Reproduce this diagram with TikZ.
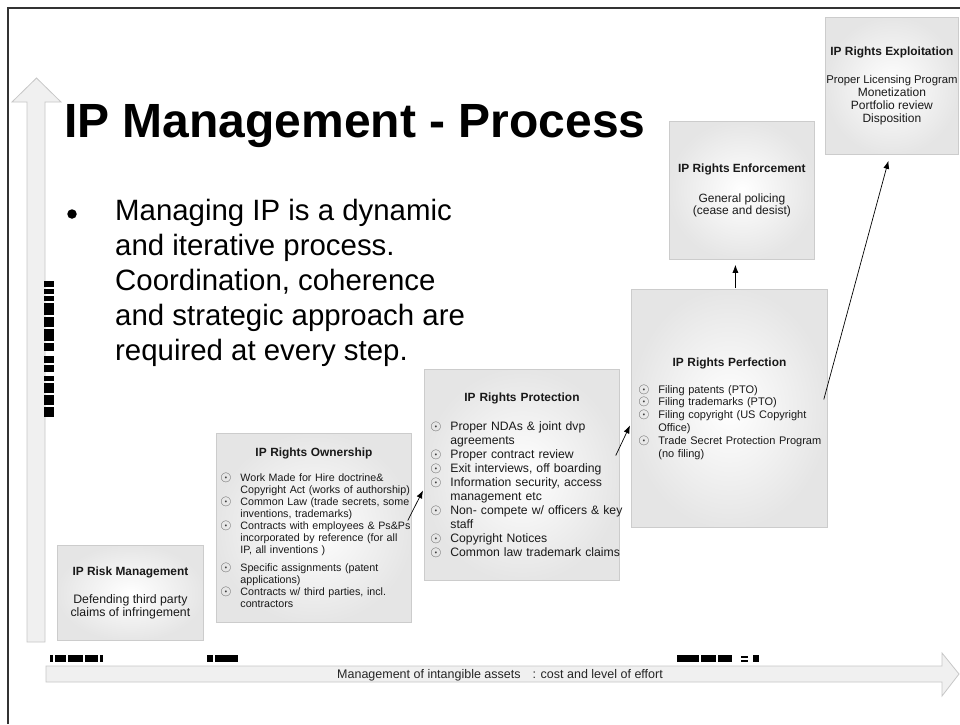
\documentclass[tikz,border=0pt]{standalone}
\usepackage{fontspec}
\setmainfont{Liberation Sans}
\usetikzlibrary{arrows.meta}

% list marks and lines inside the boxes
\newcommand\ipbul{{\fontsize{14}{14}\selectfont\color{black!75}$\odot$}}
\newcommand\ipitem[1]{\makebox[20pt][l]{\ipbul}\mbox{#1}}
\newcommand\ipmore[1]{\hspace*{20pt}\mbox{#1}}
\newcommand\iptitle[1]{{\fontsize{11.9}{13}\selectfont\bfseries #1}}

\tikzset{
  ipbox/.style={anchor=north west, draw=black!20, line width=0.8pt,
    inner color=white, outer color=black!10, inner ysep=0pt, text=black!90},
  iplist/.style={ipbox, align=left},
  bigarrow/.style={draw=black!22, fill=black!6, line width=0.8pt},
  link/.style={-{Latex[length=8pt,width=6pt]}, line width=0.7pt},
}

\begin{document}
\begin{tikzpicture}[x=1pt,y=-1pt]
        \useasboundingbox (0,0) rectangle (960,724);
        \fill[white] (0,0) rectangle (960,724);
        \draw[black!80, line width=1.2pt] (8,724) -- (8,8) -- (960,8);

        % the two axes
        \draw[bigarrow] (27,642) -- (27,102) -- (12,102) -- (36.5,78) -- (61,102) -- (45,102) -- (45,642) -- cycle;
        \draw[bigarrow] (46,666) -- (942,666) -- (942,653) -- (959,674) -- (942,696) -- (942,682) -- (46,682) -- cycle;

        % smudged axis labels
        \foreach \a/\b in {281/287,289/294,296/301,303/315,317/327,329/341,343/351,356/363,365/372,376/381,383/393,395/405,407/417}{
            \fill (44,\a) rectangle (54,\b);
        }
        \foreach \a/\b in {50/53,55/66,68/83,85/98,100/103,207/213,215/238,677/699,701/716,718/732,753/759}{
            \fill (\a,655) rectangle (\b,662);
        }
        \fill (741,656) rectangle (748,658);
        \fill (741,660) rectangle (748,662);

        \node[anchor=base west, inner sep=0pt, font=\fontsize{12.5}{14}\selectfont, text=black!85] (effort) at (337,678)
            {Management of intangible assets\hspace{12pt}: cost and level of effort};

        % heading and bullet
        \node[anchor=base west, inner sep=0pt, font=\fontsize{48}{50}\selectfont\bfseries] (title) at (64,137) {IP Management - Process};
        \node[circle, fill=black, minimum size=9.5pt, inner sep=0pt] (dot) at (72,214) {};
        \node[anchor=north west, inner sep=0pt, align=left, font=\fontsize{29.4}{35}\selectfont] (intro) at (115,199)
            {Managing IP is a dynamic\\and iterative process.\\Coordination, coherence\\and strategic approach are\\required at every step.};

        % the steps
        \node[ipbox, minimum width=146pt, minimum height=95pt, align=center, font=\fontsize{12.3}{13}\selectfont] (risk) at (57,545)
            {\iptitle{IP Risk Management}\\[15pt]Defending third party\\claims of infringement};

        \node[iplist, minimum width=195pt, minimum height=189pt, text width=187pt, inner xsep=4pt, font=\fontsize{10.7}{12}\selectfont] (own) at (216,433)
            {\makebox[\linewidth]{\iptitle{IP Rights Ownership}}\\[13pt]
            \ipitem{Work Made for Hire doctrine\&}\\
            \ipmore{Copyright Act (works of authorship)}\\
            \ipitem{Common Law (trade secrets, some}\\
            \ipmore{inventions, trademarks)}\\
            \ipitem{Contracts with employees \& Ps\&Ps}\\
            \ipmore{incorporated by reference (for all}\\
            \ipmore{IP, all inventions )}\\[6pt]
            \ipitem{Specific assignments (patent}\\
            \ipmore{applications)}\\
            \ipitem{Contracts w/ third parties, incl.}\\
            \ipmore{contractors}};

        \node[iplist, minimum width=195pt, minimum height=211pt, text width=183pt, inner xsep=6pt, font=\fontsize{12.2}{14}\selectfont] (prot) at (424,369)
            {\makebox[\linewidth]{\iptitle{IP Rights Protection}}\\[15pt]
            \ipitem{Proper NDAs \& joint dvp}\\
            \ipmore{agreements}\\
            \ipitem{Proper contract review}\\
            \ipitem{Exit interviews, off boarding}\\
            \ipitem{Information security, access}\\
            \ipmore{management etc}\\
            \ipitem{Non- compete w/ officers \& key}\\
            \ipmore{staff}\\
            \ipitem{Copyright Notices}\\
            \ipitem{Common law trademark claims}};

        \node[iplist, minimum width=196pt, minimum height=238pt, text width=182pt, inner xsep=7pt, font=\fontsize{11}{12.8}\selectfont] (perf) at (631,289)
            {\makebox[\linewidth]{\iptitle{IP Rights Perfection}}\\[14.2pt]
            \ipitem{Filing patents (PTO)}\\
            \ipitem{Filing trademarks (PTO)}\\
            \ipitem{Filing copyright (US Copyright}\\
            \ipmore{Office)}\\
            \ipitem{Trade Secret Protection Program}\\
            \ipmore{(no filing)}};

        \node[ipbox, minimum width=145pt, minimum height=138pt, align=center, font=\fontsize{12}{11.6}\selectfont] (enf) at (669,121)
            {\iptitle{IP Rights Enforcement}\\[18.4pt]General policing\\(cease and desist)};

        \node[ipbox, minimum width=133pt, minimum height=137pt, align=center, font=\fontsize{12}{13.3}\selectfont] (expl) at (825,17)
            {\iptitle{IP Rights Exploitation}\\[14.7pt]\makebox[124pt]{\fontsize{11.3}{13.3}\selectfont Proper Licensing Program}\\Monetization\\Portfolio review\\Disposition};

        % steps leading on
        \draw[link] ([xshift=-4pt,yshift=7.5pt]own.east) -- ([xshift=-1pt,yshift=-15.5pt]prot.west);
        \draw[link] ([xshift=-4pt,yshift=19.5pt]prot.east) -- ([xshift=-1pt,yshift=-17pt]perf.west);
        \draw[link] ([xshift=6pt,yshift=1pt]perf.north) -- ([xshift=-6.5pt,yshift=-5pt]enf.south);
        \draw[link] ([xshift=-4pt,yshift=9pt]perf.east) -- ([xshift=-3.5pt,yshift=-6pt]expl.south);
    \end{tikzpicture}
\end{document}
